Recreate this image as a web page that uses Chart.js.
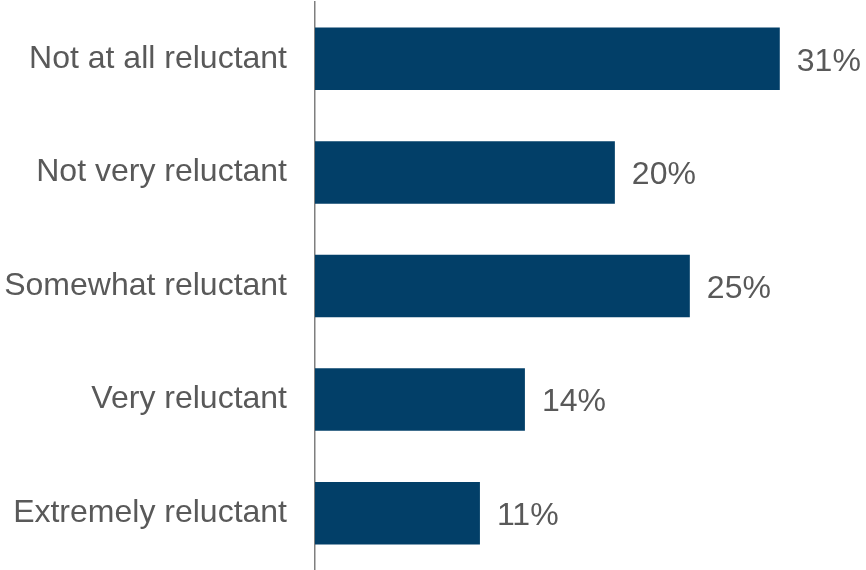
<!DOCTYPE html>
<html lang="en">
<head>
    <meta charset="UTF-8">
    <title>Reluctance</title>
    <script src="https://cdn.jsdelivr.net/npm/chart.js"></script>
    <style>
        html, body { margin: 0; padding: 0; background: #fff; }
        #wrap { width: 866px; height: 570px; }
    </style>
</head>
<body>
    <div id="wrap"><canvas id="chart" width="866" height="570"></canvas></div>

    <script>
        // data
        const categories = ['Not at all reluctant', 'Not very reluctant', 'Somewhat reluctant', 'Very reluctant', 'Extremely reluctant'];
        const values = [31, 20, 25, 14, 11];

        // draws "31%" etc to the right of each bar
        const valueLabels = {
            id: 'valueLabels',
            afterDatasetsDraw(chart) {
                const ctx = chart.ctx;
                const meta = chart.getDatasetMeta(0);
                ctx.save();
                ctx.font = '32px "Liberation Sans", Arial, sans-serif';
                ctx.fillStyle = '#595959';
                ctx.textAlign = 'left';
                ctx.textBaseline = 'middle';
                meta.data.forEach(function(bar, i) {
                    ctx.fillText(values[i] + '%', bar.x + 17, bar.y + 3);
                });
                ctx.restore();
            }
        };

        const ctx = document.getElementById('chart').getContext('2d');
        new Chart(ctx, {
            type: 'bar',
            data: {
                labels: categories,
                datasets: [{
                    data: values,
                    backgroundColor: '#023f68',
                    borderWidth: 0,
                    barPercentage: 0.55,
                    categoryPercentage: 1.0
                }]
            },
            options: {
                indexAxis: 'y',
                responsive: false,
                animation: false,
                layout: { padding: { top: 2, right: 0, bottom: 0, left: 0 } },
                plugins: {
                    legend: { display: false },
                    tooltip: { enabled: false }
                },
                scales: {
                    x: {
                        min: 0,
                        max: 36.75,
                        display: false,
                        grid: { display: false }
                    },
                    y: {
                        grid: { display: false },
                        border: { display: true, color: '#7f7f7f', width: 1.5 },
                        ticks: {
                            color: '#595959',
                            padding: 20,
                            font: { family: '"Liberation Sans", Arial, sans-serif', size: 32 }
                        },
                        afterFit: function(scale) {
                            scale.width = 315;
                            scale.paddingTop = 0;
                            scale.paddingBottom = 0;
                        }
                    }
                }
            },
            plugins: [valueLabels]
        });
    </script>
</body>
</html>
